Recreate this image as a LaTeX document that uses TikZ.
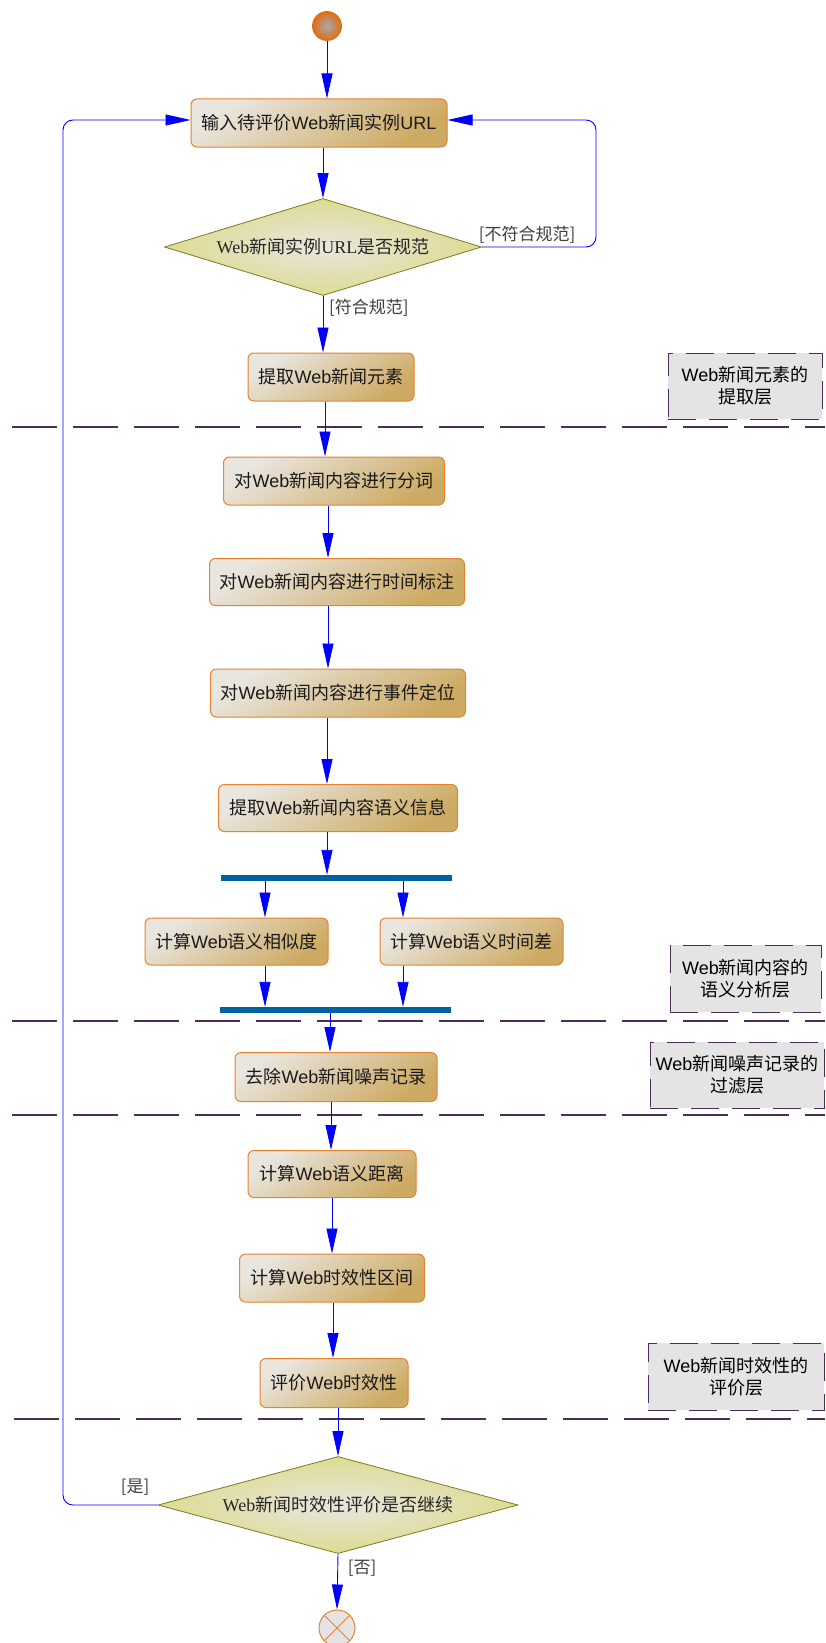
\documentclass[tikz,border=0pt]{standalone}
\usepackage{fontspec}
\setmainfont{Noto Sans CJK SC}
\newfontfamily\lat{Liberation Sans}
\newfontfamily\ser{Liberation Serif}
\usetikzlibrary{shapes.geometric,arrows.meta}
\definecolor{boxline}{HTML}{E8822E}
\definecolor{boxlight}{HTML}{E9E6E0}
\definecolor{boxdark}{HTML}{CDAA62}
\definecolor{dialine}{HTML}{7A7A20}
\definecolor{diaout}{HTML}{DEDB92}
\definecolor{diain}{HTML}{E8E6DE}
\definecolor{arrowblue}{HTML}{0000FF}
\definecolor{barblue}{HTML}{0062A0}
\definecolor{layerline}{HTML}{4A2E58}
\definecolor{layerfill}{HTML}{E4E4E4}
\definecolor{startorange}{HTML}{E06D10}
\definecolor{startgrey}{HTML}{A8AAB0}
\begin{document}
\begin{tikzpicture}[x=1pt,y=-1pt,
  act/.style={draw=boxline, line width=1pt, rounded corners=6pt, top color=boxlight, bottom color=boxdark, shading angle=35, inner sep=0pt, font=\fontsize{18}{22}\selectfont, text=black!90},
  dec/.style={diamond, draw=dialine, line width=0.8pt, inner color=diain, outer color=diaout, inner sep=0pt, shape aspect=3.3, font=\fontsize{18}{22}\selectfont, text=black!85},
  startnode/.style={circle, draw=startorange, line width=0.8pt, inner color=startgrey, outer color=startorange, minimum size=29pt, inner sep=0pt},
  endnode/.style={circle, draw=boxline, line width=1pt, fill=layerfill, minimum size=36pt, inner sep=0pt},
  layer/.style={draw=layerline, line width=1pt, dash pattern=on 28pt off 13pt, fill=layerfill, align=center, inner sep=0pt, font=\fontsize{18}{22}\selectfont, text=black},
  sepline/.style={draw=layerline, line width=1.3pt, dash pattern=on 45pt off 16pt},
  bar/.style={fill=barblue, minimum width=231pt, minimum height=6pt, inner sep=0pt},
  arr/.style={draw=arrowblue, line width=0.9pt, -{Triangle[length=25pt,width=11pt]}},
  lbl/.style={font=\fontsize{17}{20}\selectfont, text=black!75, inner sep=0pt}
]
\fill[white] (0,0) rectangle (825,1643);
\useasboundingbox (0,0) rectangle (825,1643);

% separator lines
\draw[sepline] (12,427) -- (825,427);
\draw[sepline] (12,1021) -- (825,1021);
\draw[sepline] (12,1115) -- (825,1115);
\draw[sepline] (14,1419) -- (825,1419);

% layer labels
\node[layer, minimum width=154pt, minimum height=66pt] (L1) at (745,386) {{\lat Web}新闻元素的\\提取层};
\node[layer, minimum width=151pt, minimum height=67pt] (L2) at (745.5,978.5) {{\lat Web}新闻内容的\\语义分析层};
\node[layer, minimum width=174pt, minimum height=66pt] (L3) at (737,1075) {{\lat Web}新闻噪声记录的\\过滤层};
\node[layer, minimum width=176pt, minimum height=67pt] (L4) at (736,1376.5) {{\lat Web}新闻时效性的\\评价层};

% nodes
\node[startnode] (s) at (327,26) {};
\node[act, minimum width=256pt, minimum height=48pt] (b1) at (319,123) {输入待评价{\lat Web}新闻实例{\lat URL}};
\node[dec, minimum width=317pt, minimum height=97pt] (d1) at (323,247) {{\ser Web}新闻实例{\ser URL}是否规范};
\node[act, minimum width=166pt, minimum height=48pt] (b2) at (331,377) {提取{\lat Web}新闻元素};
\node[act, minimum width=221pt, minimum height=48pt] (b3) at (334,481) {对{\lat Web}新闻内容进行分词};
\node[act, minimum width=255pt, minimum height=47pt] (b4) at (337,582) {对{\lat Web}新闻内容进行时间标注};
\node[act, minimum width=255pt, minimum height=48pt] (b5) at (338,693) {对{\lat Web}新闻内容进行事件定位};
\node[act, minimum width=239pt, minimum height=47pt] (b6) at (338,808) {提取{\lat Web}新闻内容语义信息};
\node[bar] (f1) at (336.5,878) {};
\node[act, minimum width=183pt, minimum height=47pt] (b7) at (236.5,941.5) {计算{\lat Web}语义相似度};
\node[act, minimum width=183pt, minimum height=47pt] (b8) at (471.5,941.5) {计算{\lat Web}语义时间差};
\node[bar] (f2) at (335.5,1010) {};
\node[act, minimum width=202pt, minimum height=49pt] (b9) at (336,1077) {去除{\lat Web}新闻噪声记录};
\node[act, minimum width=168pt, minimum height=47pt] (b10) at (332,1174) {计算{\lat Web}语义距离};
\node[act, minimum width=185pt, minimum height=48pt] (b11) at (332,1278) {计算{\lat Web}时效性区间};
\node[act, minimum width=148pt, minimum height=49pt] (b12) at (334,1383) {评价{\lat Web}时效性};
\node[dec, minimum width=360pt, minimum height=97pt] (d2) at (338,1505) {{\ser Web}新闻时效性评价是否继续};
\node[endnode] (e) at (337,1628) {};
\draw[boxline, line width=1pt] (e.north east) -- (e.south west) (e.north west) -- (e.south east);

% column coordinates
\coordinate (c1) at (325,0);
\coordinate (c2) at (328,0);
\coordinate (c3) at (327,0);
\coordinate (c4) at (330,0);
\coordinate (c5) at (331,0);
\coordinate (c6) at (332,0);
\coordinate (c7) at (333,0);
\coordinate (ca) at (265,0);
\coordinate (cb) at (403,0);
\coordinate (r1) at (596,120);
\coordinate (r2) at (63,120);

% connectors
\draw[arr] (s) -- (s |- b1.north);
\draw[arr] (b1.south -| d1.north) -- (d1.north);
\draw[arr] (d1.south) -- (d1.south |- b2.north);
\draw[arr, rounded corners=10pt] (d1.east) -| (r1) -- (r1 -| b1.east);
\draw[arr] (b2.south -| c1) -- (b3.north -| c1);
\draw[arr] (b3.south -| c2) -- (b4.north -| c2);
\draw[arr] (b4.south -| c2) -- (b5.north -| c2);
\draw[arr] (b5.south -| c3) -- (b6.north -| c3);
\draw[arr] (b6.south -| c3) -- (f1.north -| c3);
\draw[arr] (f1.south -| ca) -- (b7.north -| ca);
\draw[arr] (f1.south -| cb) -- (b8.north -| cb);
\draw[arr] (b7.south -| ca) -- (f2.north -| ca);
\draw[arr] (b8.south -| cb) -- (f2.north -| cb);
\draw[arr] (f2.south -| c4) -- (b9.north -| c4);
\draw[arr] (b9.south -| c5) -- (b10.north -| c5);
\draw[arr] (b10.south -| c6) -- (b11.north -| c6);
\draw[arr] (b11.south -| c7) -- (b12.north -| c7);
\draw[arr] (b12.south -| d2.north) -- (d2.north);
\draw[arr] (d2.south) -- (e.north);
\draw[arr, rounded corners=10pt] (d2.west) -| (r2) -- (r2 -| b1.west);

% labels
\node[lbl, anchor=west] (l1) at (329,308) {[符合规范]};
\node[lbl] (l2) at (527,235) {[不符合规范]};
\node[lbl] (l3) at (135,1487) {[是]};
\node[lbl] (l4) at (362,1568) {[否]};
\end{tikzpicture}
\end{document}
